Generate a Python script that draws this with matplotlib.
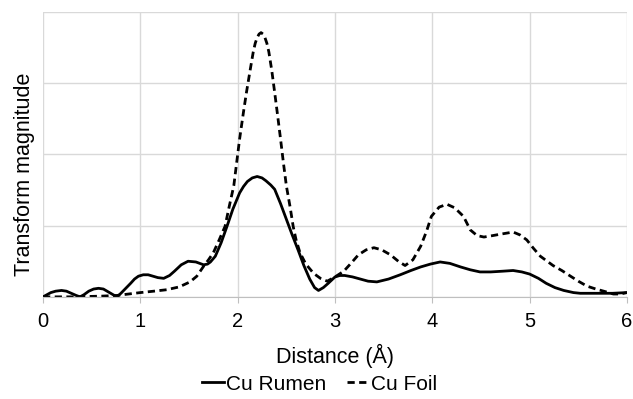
import matplotlib
matplotlib.use('Agg')
import matplotlib.pyplot as plt

plt.rcParams['font.family'] = ['Liberation Sans', 'DejaVu Sans']

# Cu Rumen (solid)
rumen_x = [0.00, 0.04, 0.08, 0.13, 0.19, 0.24, 0.29, 0.34, 0.38, 0.42, 0.47, 0.52,
           0.57, 0.62, 0.67, 0.72, 0.76, 0.80, 0.85, 0.90, 0.94, 0.98, 1.03, 1.08,
           1.13, 1.18, 1.24, 1.30, 1.35, 1.42, 1.49, 1.57, 1.65, 1.69, 1.72, 1.77,
           1.83, 1.89, 1.95, 2.02, 2.06, 2.10, 2.15, 2.20, 2.25, 2.29, 2.34, 2.38,
           2.44, 2.50, 2.56, 2.62, 2.68, 2.74, 2.79, 2.83, 2.88, 2.93, 3.00, 3.05,
           3.10, 3.18, 3.26, 3.34, 3.43, 3.55, 3.67, 3.78, 3.88, 3.98, 4.08, 4.18,
           4.29, 4.39, 4.49, 4.60, 4.72, 4.83, 4.92, 5.00, 5.09, 5.17, 5.26, 5.35,
           5.45, 5.52, 5.70, 5.85, 6.00]
rumen_y = [0.00, 0.03, 0.06, 0.08, 0.09, 0.08, 0.05, 0.02, 0.00, 0.03, 0.08, 0.11,
           0.12, 0.11, 0.07, 0.03, 0.00, 0.05, 0.12, 0.19, 0.25, 0.29, 0.31, 0.31,
           0.29, 0.27, 0.26, 0.30, 0.36, 0.45, 0.50, 0.49, 0.45, 0.46, 0.49, 0.57,
           0.76, 0.99, 1.23, 1.46, 1.55, 1.62, 1.67, 1.69, 1.67, 1.63, 1.57, 1.51,
           1.31, 1.09, 0.87, 0.66, 0.44, 0.25, 0.13, 0.09, 0.13, 0.19, 0.28, 0.30,
           0.30, 0.28, 0.25, 0.22, 0.21, 0.25, 0.31, 0.37, 0.42, 0.46, 0.49, 0.47,
           0.42, 0.38, 0.35, 0.35, 0.36, 0.37, 0.35, 0.32, 0.26, 0.19, 0.13, 0.09,
           0.06, 0.05, 0.05, 0.05, 0.06]

# Cu Foil (dashed)
foil_x = [0.00, 0.30, 0.60, 0.76, 0.88, 1.00, 1.14, 1.27, 1.40, 1.51, 1.58, 1.65,
          1.70, 1.75, 1.81, 1.87, 1.91, 1.96, 2.02, 2.06, 2.09, 2.13, 2.16, 2.18,
          2.20, 2.22, 2.24, 2.26, 2.28, 2.30, 2.32, 2.35, 2.38, 2.41, 2.44, 2.47,
          2.50, 2.54, 2.57, 2.60, 2.64, 2.70, 2.78, 2.85, 2.92, 3.00, 3.09, 3.17,
          3.24, 3.32, 3.40, 3.48, 3.57, 3.65, 3.72, 3.80, 3.88, 3.94, 3.99, 4.07,
          4.15, 4.23, 4.32, 4.39, 4.46, 4.53, 4.62, 4.70, 4.83, 4.90, 4.97, 5.04,
          5.11, 5.18, 5.24, 5.33, 5.42, 5.50, 5.59, 5.68, 5.76, 5.86, 5.93, 6.00]
foil_y = [0.00, 0.00, 0.01, 0.02, 0.04, 0.06, 0.08, 0.10, 0.14, 0.21, 0.29, 0.43,
          0.52, 0.62, 0.80, 0.99, 1.25, 1.56, 2.22, 2.60, 2.87, 3.20, 3.44, 3.56,
          3.64, 3.69, 3.71, 3.69, 3.64, 3.56, 3.44, 3.18, 2.87, 2.55, 2.22, 1.88,
          1.56, 1.25, 0.99, 0.80, 0.62, 0.46, 0.33, 0.26, 0.22, 0.28, 0.36, 0.48,
          0.59, 0.66, 0.69, 0.66, 0.59, 0.50, 0.44, 0.52, 0.71, 0.92, 1.13, 1.26,
          1.30, 1.25, 1.13, 0.94, 0.86, 0.84, 0.86, 0.88, 0.91, 0.87, 0.80, 0.68,
          0.57, 0.50, 0.44, 0.37, 0.29, 0.22, 0.15, 0.11, 0.08, 0.04, 0.04, 0.06]

x_ticks = [0, 1, 2, 3, 4, 5, 6]

fig = plt.figure(figsize=(6.33, 3.99), dpi=100)
ax = fig.add_axes([0.068, 0.256, 0.9225, 0.714])

ax.plot(rumen_x, rumen_y, color='black', lw=2.0, label='Cu Rumen')
ax.plot(foil_x, foil_y, color='black', lw=2.0, ls=(0, (2.6, 1.6)), label='Cu Foil')

ax.set_xlim(0, 6)
ax.set_ylim(0, 4)
ax.set_xticks(x_ticks)
ax.set_yticks([0, 1, 2, 3, 4])
ax.set_yticklabels([])
ax.tick_params(axis='y', length=0)
ax.tick_params(axis='x', length=4, color='#bfbfbf', labelsize=14.5, pad=7)
ax.grid(True, color='#d9d9d9', lw=1)
ax.set_axisbelow(True)
for side in ['top', 'right', 'left']:
    ax.spines[side].set_visible(False)
ax.spines['bottom'].set_color('#bfbfbf')

ax.set_xlabel('Distance (Å)', fontsize=15.5, labelpad=9)
ax.set_ylabel('Transform magnitude', fontsize=15.5)
ax.yaxis.set_label_coords(-0.013, 0.43)

fig.legend(loc='center', bbox_to_anchor=(0.505, 0.037), ncol=2, frameon=False,
           fontsize=15, handlelength=1.05, handletextpad=0.1, columnspacing=1.0)

fig.savefig('out.png', dpi=100)
